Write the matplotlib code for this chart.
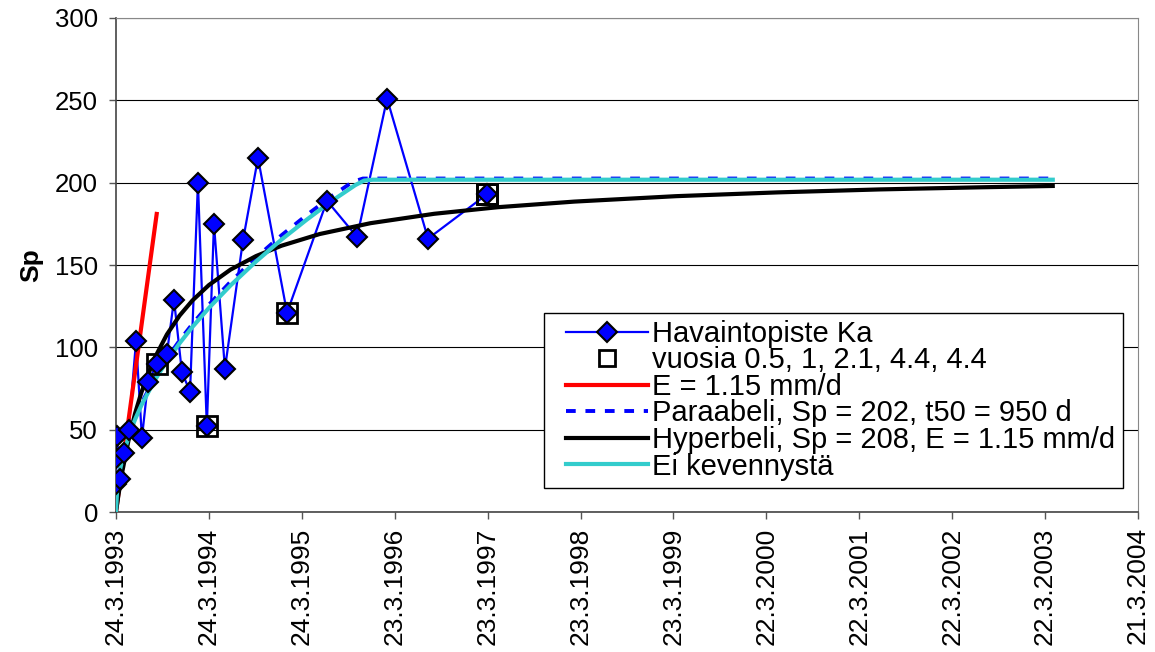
import numpy as np
import matplotlib
matplotlib.use('Agg')
import matplotlib.pyplot as plt
from matplotlib.lines import Line2D
from matplotlib.legend_handler import HandlerLine2D

plt.rcParams['font.family'] = ['Liberation Sans', 'DejaVu Sans']
plt.rcParams['font.size'] = 18

# observations, days from 24.3.1993
obs_days = [0, 2, 4, 16, 30, 50, 79, 102, 126, 161, 200, 228, 259, 291, 322, 357, 385,
            428, 499, 558, 672, 829, 947, 1065, 1226, 1458]
obs_sp = [17, 33, 46, 20, 36, 50, 104, 45, 79, 90, 96, 129, 85, 73, 200, 52, 175,
          87, 165, 215, 121, 189, 167, 251, 166, 193]

# marked points (vuosia 0.5, 1, 2.1, 4.4, 4.4)
sq_days = [161, 357, 672, 1458, 1458]
sq_sp = [90, 52, 121, 193, 193]

# E = 1.15 mm/d
red_days = [0, 160]
red_sp = [0, 181]

# Paraabeli
par_days = [0, 5, 15, 30, 50, 75, 100, 150, 200, 250, 300, 365, 450, 550, 650, 750, 850,
            930, 970, 3680]
par_sp = [0, 14.7, 25.5, 36.1, 46.6, 57.1, 65.9, 80.7, 93.2, 104.2, 114.1, 125.9, 139.8,
          154.5, 168.0, 180.4, 192.1, 200.5, 202.5, 202.5]

# Hyperbeli
hyp_days = [0, 10, 25, 50, 75, 100, 150, 200, 250, 300, 365, 450, 550, 650, 800, 1000,
            1250, 1500, 1800, 2200, 2600, 3000, 3400, 3680]
hyp_sp = [0, 10.6, 24.6, 44.1, 59.8, 72.7, 92.9, 107.8, 119.3, 128.4, 137.8, 147.2, 155.4,
          161.7, 168.8, 175.4, 181.1, 185.1, 188.5, 191.8, 194.1, 195.9, 197.2, 198.0]

# Ei kevennystä
ei_days = [0, 5, 15, 30, 50, 75, 100, 150, 200, 250, 300, 365, 450, 550, 650, 750, 850,
           940, 975, 1010, 3680]
ei_sp = [0, 14.5, 25.1, 35.5, 45.9, 56.2, 64.9, 79.4, 91.7, 102.5, 112.3, 123.9, 137.6,
         152.1, 165.4, 177.6, 189.1, 198.5, 201.3, 201.8, 201.8]

tick_days = [0, 365, 730, 1095, 1460, 1825, 2190, 2555, 2920, 3285, 3650, 4015]
tick_labels = ['24.3.1993', '24.3.1994', '24.3.1995', '23.3.1996', '23.3.1997', '23.3.1998',
               '23.3.1999', '22.3.2000', '22.3.2001', '22.3.2002', '22.3.2003', '21.3.2004']

fig = plt.figure(figsize=(11.55, 6.52), dpi=100)
ax = fig.add_axes([0.1004, 0.2147, 0.8849, 0.7577])

ax.plot(obs_days, obs_sp, color='#0000ff', lw=1.6, zorder=2)
ax.plot(red_days, red_sp, color='#ff0000', lw=3, zorder=3)
ax.plot(par_days, par_sp, color='#0000ff', lw=2.8, dashes=(2.5, 2.5), zorder=3)
ax.plot(hyp_days, hyp_sp, color='black', lw=3, zorder=4)
ax.plot(ei_days, ei_sp, color='#33cccc', lw=3, zorder=4)
ax.plot(obs_days, obs_sp, ls='none', marker='D', ms=10, mfc='#0000ff', mec='black', mew=1.5, zorder=6)
ax.plot(sq_days, sq_sp, ls='none', marker='s', ms=14, mfc='none', mec='black', mew=2, zorder=5)

ax.set_xlim(0, 4015)
ax.set_ylim(0, 300)
ax.set_yticks(range(0, 301, 50))
ax.set_xticks(tick_days)
ax.set_xticklabels(tick_labels, rotation=90)
ax.tick_params(axis='both', direction='out', length=5, width=1, color='#555555')
ax.tick_params(axis='y', pad=8, labelsize=18.5)
ax.tick_params(axis='x', pad=6, labelsize=19)
ax.yaxis.grid(True, color='black', lw=0.8)
ax.set_axisbelow(True)
for s in ['top', 'right']:
    ax.spines[s].set_color('#888888')
for s in ['left', 'bottom']:
    ax.spines[s].set_color('#444444')
    ax.spines[s].set_linewidth(1.2)
ax.set_ylabel('Sp', fontweight='bold', fontsize=19, labelpad=8)

handles = [
    Line2D([], [], color='#0000ff', lw=1.6, marker='D', ms=10, mfc='#0000ff', mec='black', mew=1.5),
    Line2D([], [], ls='none', marker='s', ms=11, mfc='none', mec='black', mew=2),
    Line2D([], [], color='#ff0000', lw=3),
    Line2D([], [], color='#0000ff', lw=2.8, dashes=(2.5, 2.5)),
    Line2D([], [], color='black', lw=3),
    Line2D([], [], color='#33cccc', lw=3),
]
labels = ['Havaintopiste Ka', 'vuosia 0.5, 1, 2.1, 4.4, 4.4', 'E = 1.15 mm/d',
          'Paraabeli, Sp = 202, t50 = 950 d', 'Hyperbeli, Sp = 208, E = 1.15 mm/d', 'Ei kevennystä']
leg = ax.legend(handles, labels, loc='lower right', bbox_to_anchor=(0.985, 0.049),
                fancybox=False, framealpha=1, edgecolor='black', fontsize=21,
                handlelength=3.3, handletextpad=0.15, labelspacing=-0.05, borderpad=0.25,
                borderaxespad=0, handler_map={Line2D: HandlerLine2D(xpad=0.5)})
leg.get_frame().set_linewidth(1)

fig.savefig('out.png', dpi=100)
